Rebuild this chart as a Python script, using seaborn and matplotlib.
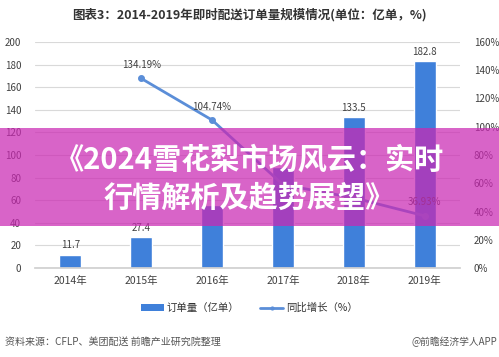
import matplotlib
matplotlib.use("Agg")
import matplotlib.pyplot as plt
import seaborn as sns
import pandas as pd
import numpy as np
from matplotlib.patches import Rectangle, Patch
from matplotlib.lines import Line2D
from matplotlib.ticker import FuncFormatter

# Data
years = ["2014年", "2015年", "2016年", "2017年", "2018年", "2019年"]
orders = [11.7, 27.4, 56.1, 89.2, 133.5, 182.8]
growth = [np.nan, 134.19, 104.74, 59.00, 49.66, 36.93]
# labels that sit under the banner are not readable in the original
order_labels = ["11.7", "27.4", "", "", "133.5", "182.8"]
growth_labels = ["", "134.19%", "104.74%", "", "", "36.93%"]

title = "图表3：2014-2019年即时配送订单量规模情况(单位：亿单，%)"
banner_lines = ["《2024雪花梨市场风云：实时", "行情解析及趋势展望》"]
source = "资料来源：CFLP、美团配送 前瞻产业研究院整理"
brand = "@前瞻经济学人APP"

BAR_C = "#3F80DA"
LINE_C = "#5B8ED8"
TXT_C = "#404040"

sns.set_theme(style="white")
plt.rcParams['font.family'] = ['Noto Sans CJK SC', 'DejaVu Sans']

df = pd.DataFrame({"year": years, "orders": orders, "growth": growth})

fig = plt.figure(figsize=(4.99, 3.57), dpi=100)
ax = fig.add_axes([35 / 499, 1 - 268 / 357, 425 / 499, 226 / 357])

sns.barplot(data=df, x="year", y="orders", order=years, color=BAR_C,
            width=0.31, saturation=1, ax=ax, zorder=2)
ax.set_ylim(0, 200)
ax.set_yticks(range(0, 201, 20))
ax.set_xlim(-0.5, 5.5)
ax.set_xlabel("")
ax.set_ylabel("")
ax.grid(axis="y", color="#D9D9D9", linewidth=0.8, zorder=0)
ax.set_axisbelow(True)
for s in ["top", "left", "right"]:
    ax.spines[s].set_visible(False)
ax.spines["bottom"].set_color("#D0D0D0")
ax.tick_params(axis="y", labelsize=7, colors=TXT_C, pad=10, length=0)
ax.tick_params(axis="x", labelsize=7.5, colors=TXT_C, pad=6, length=0)

for i, (v, lab) in enumerate(zip(orders, order_labels)):
    if lab:
        ax.text(i, v + 4, lab, ha="center", va="bottom", fontsize=7, color=TXT_C)

ax2 = ax.twinx()
sns.pointplot(data=df, x="year", y="growth", order=years, color=LINE_C,
              markers="o", markersize=3.5, linewidth=2, ax=ax2, zorder=3)
ax2.set_ylim(0, 160)
ax2.set_yticks(range(0, 161, 20))
ax2.yaxis.set_major_formatter(FuncFormatter(lambda v, p: f"{v:.0f}%"))
ax2.set_ylabel("")
ax2.set_xlim(-0.5, 5.5)
for s in ["top", "left", "right", "bottom"]:
    ax2.spines[s].set_visible(False)
ax2.tick_params(axis="y", labelsize=7, colors=TXT_C, pad=10, length=0)

for i, (g, lab) in enumerate(zip(growth, growth_labels)):
    if lab:
        ax2.text(i, g + 6, lab, ha="center", va="bottom", fontsize=7, color=TXT_C)

fig.text(0.5, 1 - 15 / 357, title, ha="center", va="center",
         fontsize=9, fontweight="bold", color="#333333")

handles = [Patch(facecolor=BAR_C, edgecolor="none"),
           Line2D([0], [0], color=LINE_C, lw=2, marker="o", markersize=2)]
fig.legend(handles, ["订单量（亿单）", "同比增长（%）"], loc="center",
           bbox_to_anchor=(0.5, 1 - 308 / 357), ncol=2, frameon=False,
           fontsize=7.5, handlelength=2.2, handleheight=0.6, columnspacing=2.0,
           handletextpad=0.3, labelcolor="#333333")

fig.text(5 / 499, 1 - 342 / 357, source, ha="left", va="center",
         fontsize=7.2, color="#555555")
fig.text(497 / 499, 1 - 342 / 357, brand, ha="right", va="center",
         fontsize=7, color="#555555")

# pink banner overlay
fig.patches.append(Rectangle((0, 1 - 226 / 357), 1, 98 / 357, transform=fig.transFigure,
                             facecolor=(202 / 255, 40 / 255, 179 / 255), alpha=0.72,
                             edgecolor="none", zorder=10))
fig.text(0.5, 1 - 160 / 357, banner_lines[0], ha="center", va="center",
         fontsize=21, fontweight="heavy", color="white", zorder=11)
fig.text(0.5, 1 - 198 / 357, banner_lines[1], ha="center", va="center",
         fontsize=21, fontweight="heavy", color="white", zorder=11)

fig.savefig("out.png", dpi=100)
